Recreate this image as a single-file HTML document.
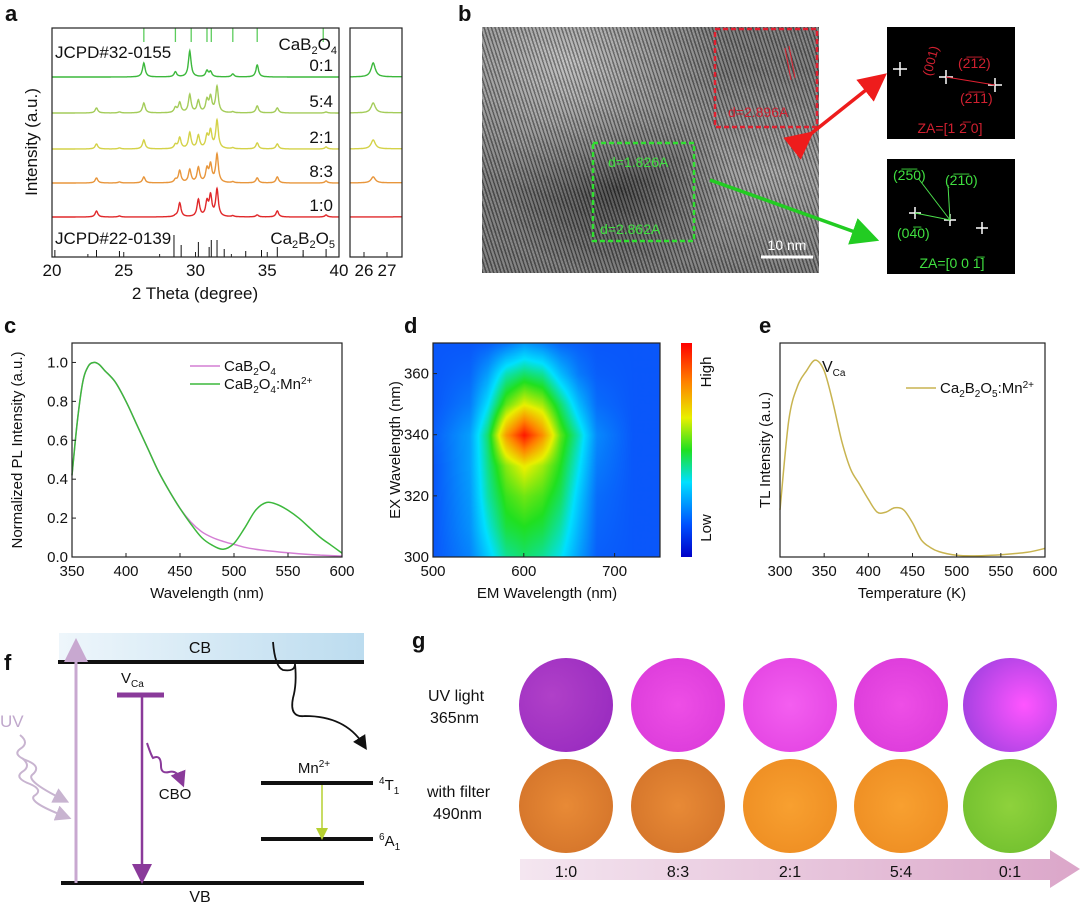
<!DOCTYPE html>
<html><head><meta charset="utf-8">
<style>
body{margin:0;background:#fff;width:1080px;height:907px;overflow:hidden;position:relative;font-family:"Liberation Sans",sans-serif}
svg{position:absolute;left:0;top:0}
#tem{position:absolute;left:482px;top:27px;width:337px;height:246px;
background:repeating-linear-gradient(72deg,rgba(0,0,0,0.35) 0 1.5px,rgba(255,255,255,0.14) 1.5px 3.5px),
radial-gradient(ellipse at 25% 15%,#b8b8b8,transparent 45%),
radial-gradient(ellipse at 40% 65%,#3a3a3a,transparent 40%),
radial-gradient(ellipse at 85% 60%,#a0a0a0,transparent 50%),#707070}
#hm{position:absolute;left:433px;top:343px;width:227px;height:214px}
</style></head><body>
<div id="tem"></div>
<canvas id="hm" width="227" height="214"></canvas>
<svg id="s" width="1080" height="907" xmlns="http://www.w3.org/2000/svg" font-family="Liberation Sans, sans-serif">
<defs>
<linearGradient id="cbg" x1="0" y1="0" x2="0" y2="1"><stop offset="0" stop-color="#ff0000"/><stop offset="0.18" stop-color="#ff8000"/><stop offset="0.35" stop-color="#e8f000"/><stop offset="0.5" stop-color="#20e020"/><stop offset="0.65" stop-color="#00e0ff"/><stop offset="0.85" stop-color="#0050ff"/><stop offset="1" stop-color="#0000c8"/></linearGradient>
<linearGradient id="cbband" x1="0" y1="0" x2="1" y2="0"><stop offset="0" stop-color="#eef6fb"/><stop offset="1" stop-color="#bcdcef"/></linearGradient>
<linearGradient id="arrowg" x1="0" y1="0" x2="1" y2="0"><stop offset="0" stop-color="#f4e6f0"/><stop offset="1" stop-color="#dba6c9"/></linearGradient>
<radialGradient id="uv1" cx="0.35" cy="0.4" r="0.7"><stop offset="0" stop-color="#b040c8"/><stop offset="1" stop-color="#9a2cc0"/></radialGradient>
<radialGradient id="uv2" cx="0.5" cy="0.5" r="0.7"><stop offset="0" stop-color="#ee4ee6"/><stop offset="1" stop-color="#d838d8"/></radialGradient>
<radialGradient id="uv3" cx="0.5" cy="0.5" r="0.7"><stop offset="0" stop-color="#f45ef0"/><stop offset="1" stop-color="#e040e0"/></radialGradient>
<radialGradient id="uv5" cx="0.65" cy="0.5" r="0.7"><stop offset="0" stop-color="#ff55ff"/><stop offset="1" stop-color="#a040e0"/></radialGradient>
<radialGradient id="or1" cx="0.5" cy="0.5" r="0.7"><stop offset="0" stop-color="#e88a36"/><stop offset="1" stop-color="#d07028"/></radialGradient>
<radialGradient id="or3" cx="0.5" cy="0.5" r="0.7"><stop offset="0" stop-color="#f8a030"/><stop offset="1" stop-color="#ec8a20"/></radialGradient>
<radialGradient id="gr5" cx="0.5" cy="0.5" r="0.7"><stop offset="0" stop-color="#8ed23c"/><stop offset="1" stop-color="#6cbc2c"/></radialGradient>
<clipPath id="clipA"><rect x="52" y="28" width="287" height="229"/></clipPath>
<clipPath id="clipI"><rect x="350" y="28" width="52" height="229"/></clipPath>
<marker id="mk" markerWidth="8" markerHeight="8" refX="4" refY="4" orient="auto"><path d="M0,0 L8,4 L0,8 z" fill="context-stroke"/></marker>
</defs>
<g id="panels"></g>
</svg>
<script>
// ---------- Panel a data ----------
const peakPos = [23.1,24.7,26.4,28.6,28.9,29.6,30.2,30.8,31.05,31.5,32.6,34.3,35.7,39.1];
const series10 = [6,1,0,1,14,0,17,14,20,27,1,2,6,2];
const series83 = [5,1,6,3,12,13,15,13,17,28,1,5,6,2];
const series21 = [5,1,9,4,11,16,13,12,17,28,1,6,5,2];
const series54 = [5,1,10,5,10,18,12,12,15,26,1,7,5,1];
const series01 = [0,0,14,5,0,26,0,6,5,0,3,12,0,0];
const xrdNames = ["0:1","5:4","2:1","8:3","1:0"];
const refCaB2O4 = [26.4,28.6,29.7,30.8,31.1,32.6,34.3,38.9];
const refCa2B2O5 = [20.2,23.1,24.7,28.5,29.0,30.2,30.95,31.1,31.5,32.0,33.5,34.6,35.7,37.5,39.1];
const refCa2B2O5H = [7,7,6,22,12,15,10,17,17,8,6,7,10,7,8];
const xTicksA = [20,25,30,35,40];
// ---------- Panel c data ----------
const wlC = [350,355,360,365,370,375,380,390,400,410,420,430,440,450,460,470,480,490,500,510,520,530,540,550,560,570,580,590,600];
const plHost = [0.42,0.7,0.9,0.98,1.0,0.99,0.96,0.9,0.8,0.68,0.56,0.44,0.34,0.25,0.18,0.13,0.1,0.08,0.065,0.05,0.04,0.033,0.027,0.022,0.017,0.013,0.01,0.007,0.005];
const plMn = [0.42,0.7,0.9,0.98,1.0,0.99,0.96,0.9,0.8,0.68,0.56,0.44,0.34,0.25,0.17,0.1,0.06,0.04,0.07,0.15,0.24,0.28,0.27,0.24,0.2,0.15,0.1,0.06,0.02];
const xTicksC = [350,400,450,500,550,600];
const yTicksC = [0,0.2,0.4,0.6,0.8,1.0];
// ---------- Panel d data ----------
const emGrid = [500,540,560,580,600,620,640,660,680,720,750];
const exGrid = [300,310,320,330,340,350,360,370];
const hmVals = [
 [0.16,0.22,0.32,0.42,0.45,0.42,0.36,0.26,0.17,0.16,0.16],
 [0.16,0.24,0.37,0.48,0.5,0.48,0.41,0.29,0.18,0.16,0.16],
 [0.16,0.25,0.41,0.52,0.56,0.53,0.46,0.32,0.19,0.16,0.16],
 [0.16,0.26,0.43,0.58,0.66,0.6,0.5,0.36,0.21,0.16,0.16],
 [0.17,0.26,0.45,0.78,0.97,0.8,0.55,0.4,0.23,0.16,0.16],
 [0.16,0.21,0.35,0.55,0.65,0.6,0.45,0.3,0.19,0.16,0.16],
 [0.16,0.18,0.26,0.4,0.45,0.42,0.3,0.21,0.17,0.16,0.16],
 [0.16,0.16,0.17,0.2,0.25,0.22,0.18,0.17,0.16,0.16,0.16]];
const xTicksD = [500,600,700];
const yTicksD = [300,320,340,360];
// ---------- Panel e data ----------
const tempE = [300,310,320,330,340,350,360,370,380,390,400,410,420,430,440,450,460,470,480,500,520,540,560,580,600];
const tlE = [0.22,0.64,0.8,0.87,0.92,0.87,0.72,0.54,0.41,0.34,0.27,0.21,0.21,0.23,0.22,0.16,0.08,0.045,0.025,0.008,0.005,0.008,0.014,0.022,0.04];
const xTicksE = [300,350,400,450,500,550,600];

const NS="http://www.w3.org/2000/svg";
const root=document.getElementById('panels');
function mk(tag,attrs,parent){const e=document.createElementNS(NS,tag);for(const k in attrs)e.setAttribute(k,attrs[k]);(parent||root).appendChild(e);return e;}
function txt(x,y,s,size,anchor,parent,extra){const e=mk('text',Object.assign({x:x,y:y,'font-size':size,'text-anchor':anchor||'start',fill:'#111'},extra||{}),parent);e.innerHTML=s;return e;}

[["a",5,21],["b",458,21],["c",4,333],["d",404,333],["e",759,333],["f",4,670],["g",412,648]].forEach(l=>{const t=txt(l[1],l[2],l[0],22,'start',null,{'font-weight':'bold'});});

// ===== Panel a =====
const gA=mk('g',{});


const ax=v=>52+(v-20)*(287/20);
const axI=v=>364+(v-26)*23;
const baseY=[77,113,149,183,217];
const colsA=['#3cb83c','#a4cc5a','#d4d248','#e8963c','#e0282a'];
const allSeries=[series01,series54,series21,series83,series10];
function xrdY(h,t){let s=0;for(let i=0;i<peakPos.length;i++){const d=(t-peakPos[i])/0.11;s+=h[i]/(1+d*d);}return s;}
function xrdPath(h,b,fx,lo,hi){let d='';for(let t=lo;t<=hi;t+=0.02){d+=(d?'L':'M')+fx(t).toFixed(1)+','+(b-xrdY(h,t)).toFixed(1);}return d;}
allSeries.forEach((h,i)=>{
 const p=mk('path',{d:xrdPath(h,baseY[i],ax,20,40),fill:'none',stroke:colsA[i],'stroke-width':1.4,'clip-path':'url(#clipA)'},gA);
 
 
 const q=mk('path',{d:xrdPath(h,baseY[i],axI,25.3,27.7),fill:'none',stroke:colsA[i],'stroke-width':1.4,'clip-path':'url(#clipI)'},gA);
 
 
 const t=txt(333,baseY[i]-6,xrdNames[i],17,'end',gA);
 
 
});
refCaB2O4.forEach(v=>{const l=mk('line',{x1:ax(v),x2:ax(v),y1:28,y2:42,stroke:'#5ccc5c','stroke-width':1.3},gA);});
refCa2B2O5.forEach((v,i)=>{const l=mk('line',{x1:ax(v),x2:ax(v),y1:257,y2:257-refCa2B2O5H[i],stroke:'#111','stroke-width':1},gA);});
mk('rect',{x:52,y:28,width:287,height:229,fill:'none',stroke:'#222','stroke-width':1.2},gA);
mk('rect',{x:350,y:28,width:52,height:229,fill:'none',stroke:'#222','stroke-width':1.2},gA);
xTicksA.forEach(v=>{mk('line',{x1:ax(v),x2:ax(v),y1:257,y2:252,stroke:'#222'},gA);txt(ax(v),276,v,17,'middle',gA);});
[22.5,27.5,32.5,37.5].forEach(v=>mk('line',{x1:ax(v),x2:ax(v),y1:257,y2:254,stroke:'#222'},gA));
[26,27].forEach(v=>{mk('line',{x1:axI(v),x2:axI(v),y1:257,y2:252,stroke:'#222'},gA);txt(axI(v),276,v,17,'middle',gA);});
txt(195,299,'2 Theta (degree)',17,'middle',gA);
txt(0,0,'Intensity (a.u.)',17,'middle',gA,{transform:'translate(37,142) rotate(-90)'});
txt(55,58,'JCPD#32-0155',17,'start',gA);
txt(337,50,'CaB<tspan font-size="11" dy="4">2</tspan><tspan dy="-4">O</tspan><tspan font-size="11" dy="4">4</tspan>',17,'end',gA);
txt(55,244,'JCPD#22-0139',17,'start',gA);
txt(335,244,'Ca<tspan font-size="11" dy="4">2</tspan><tspan dy="-4">B</tspan><tspan font-size="11" dy="4">2</tspan><tspan dy="-4">O</tspan><tspan font-size="11" dy="4">5</tspan>',17,'end',gA);

// ===== Panel b overlays =====
const gB=mk('g',{});


mk('rect',{x:715,y:29,width:102,height:98,fill:'none',stroke:'#e02030','stroke-width':2.5,'stroke-dasharray':'5,3'},gB);
mk('line',{x1:785,x2:791,y1:48,y2:80,stroke:'#e02030'},gB);mk('line',{x1:789,x2:795,y1:46,y2:78,stroke:'#e02030'},gB);
txt(728,117,'d=2.896A',14,'start',gB,{fill:'#d02030'});
mk('rect',{x:593,y:143,width:101,height:98,fill:'none',stroke:'#30e030','stroke-width':2.5,'stroke-dasharray':'5,3'},gB);
txt(608,167,'d=1.826A',14,'start',gB,{fill:'#40e040'});
txt(600,234,'d=2.862A',14,'start',gB,{fill:'#40e040'});
mk('line',{x1:761,x2:813,y1:257,y2:257,stroke:'#fff','stroke-width':3},gB);
txt(787,250,'10 nm',14,'middle',gB,{fill:'#fff'});
mk('line',{x1:803,y1:140,x2:876,y2:82,stroke:'#ee1c1c','stroke-width':3.5,'marker-end':'url(#mk)','marker-start':'url(#mk)'},gB);
mk('line',{x1:710,y1:180,x2:866,y2:236,stroke:'#22cc22','stroke-width':3.5,'marker-end':'url(#mk)'},gB);
const f1=mk('rect',{x:887,y:27,width:128,height:112,fill:'#000'},gB);
const f2=mk('rect',{x:887,y:159,width:128,height:115,fill:'#000'},gB);
[[900,69],[995,85],[946,77]].forEach(p=>{mk('line',{x1:p[0]-7,x2:p[0]+7,y1:p[1],y2:p[1],stroke:'#fff','stroke-width':1.5},gB);mk('line',{x1:p[0],x2:p[0],y1:p[1]-7,y2:p[1]+7,stroke:'#fff','stroke-width':1.5},gB);});
mk('line',{x1:946,y1:77,x2:995,y2:85,stroke:'#e02030'},gB);
txt(958,68,'(2̅1̅2)',14,'start',gB,{fill:'#d02030'});
txt(960,103,'(2̅1̅1)',14,'start',gB,{fill:'#d02030'});
txt(0,0,'(001)',13,'middle',gB,{fill:'#d02030',transform:'translate(935,62) rotate(-75)'});
txt(950,133,'ZA=[1 2̅ 0]',14,'middle',gB,{fill:'#d02030'});
[[950,220],[982,228],[915,213]].forEach(p=>{mk('line',{x1:p[0]-6,x2:p[0]+6,y1:p[1],y2:p[1],stroke:'#fff','stroke-width':1.5},gB);mk('line',{x1:p[0],x2:p[0],y1:p[1]-6,y2:p[1]+6,stroke:'#fff','stroke-width':1.5},gB);});
mk('line',{x1:950,y1:220,x2:918,y2:178,stroke:'#4ce04c'},gB);mk('line',{x1:950,y1:220,x2:948,y2:185,stroke:'#4ce04c'},gB);mk('line',{x1:950,y1:220,x2:915,y2:213,stroke:'#4ce04c'},gB);
txt(893,180,'(2̅5̅0)',14,'start',gB,{fill:'#40e040'});
txt(945,185,'(2̅1̅0)',14,'start',gB,{fill:'#40e040'});
txt(897,238,'(04̅0)',14,'start',gB,{fill:'#40e040'});
txt(952,268,'ZA=[0 0 1̅]',14,'middle',gB,{fill:'#40e040'});

function axes(g,x0,x1,y0,y1){mk('rect',{x:x0,y:y0,width:x1-x0,height:y1-y0,fill:'none',stroke:'#222','stroke-width':1.2},g);}
// smooth path (Catmull-Rom)
function line(xs,ys,fx,fy){const P=xs.map((x,i)=>[fx(x),fy(ys[i])]);let d='M'+P[0][0].toFixed(1)+','+P[0][1].toFixed(1);
 for(let i=0;i<P.length-1;i++){const p0=P[Math.max(0,i-1)],p1=P[i],p2=P[i+1],p3=P[Math.min(P.length-1,i+2)];
  const c1=[p1[0]+(p2[0]-p0[0])/6,p1[1]+(p2[1]-p0[1])/6],c2=[p2[0]-(p3[0]-p1[0])/6,p2[1]-(p3[1]-p1[1])/6];
  d+='C'+c1.map(v=>v.toFixed(1)).join(',')+' '+c2.map(v=>v.toFixed(1)).join(',')+' '+p2[0].toFixed(1)+','+p2[1].toFixed(1);}
 return d;}

// ===== Panel c =====
const gC=mk('g',{});


const cx=v=>72+(v-350)*(270/250);
const cy=v=>557-v*(214/1.1);
const pHost=mk('path',{d:line(wlC,plHost,cx,cy),fill:'none',stroke:'#d47ed4','stroke-width':1.5},gC);


const pMn=mk('path',{d:line(wlC,plMn,cx,cy),fill:'none',stroke:'#3cb83c','stroke-width':1.5},gC);


axes(gC,72,342,343,557);
xTicksC.forEach(v=>{mk('line',{x1:cx(v),x2:cx(v),y1:557,y2:553,stroke:'#222'},gC);txt(cx(v),576,v,15,'middle',gC);});
yTicksC.forEach(v=>{mk('line',{x1:72,x2:76,y1:cy(v),y2:cy(v),stroke:'#222'},gC);txt(68,cy(v)+5,v.toFixed(1),15,'end',gC);});
txt(207,598,'Wavelength (nm)',15,'middle',gC);
txt(0,0,'Normalized PL Intensity (a.u.)',15,'middle',gC,{transform:'translate(22,450) rotate(-90)'});
mk('line',{x1:190,x2:220,y1:366,y2:366,stroke:'#d47ed4','stroke-width':1.5},gC);
txt(224,371,'CaB<tspan font-size="10" dy="4">2</tspan><tspan dy="-4">O</tspan><tspan font-size="10" dy="4">4</tspan>',15,'start',gC);
mk('line',{x1:190,x2:220,y1:384,y2:384,stroke:'#3cb83c','stroke-width':1.5},gC);
txt(224,389,'CaB<tspan font-size="10" dy="4">2</tspan><tspan dy="-4">O</tspan><tspan font-size="10" dy="4">4</tspan><tspan dy="-4">:Mn</tspan><tspan font-size="10" dy="-5">2+</tspan>',15,'start',gC);

// ===== Panel d =====
const gD=mk('g',{});


const dx=v=>433+(v-500)*(227/250);
const dy=v=>557-(v-300)*(214/70);
axes(gD,433,660,343,557);
xTicksD.forEach(v=>{mk('line',{x1:dx(v),x2:dx(v),y1:557,y2:553,stroke:'#222'},gD);txt(dx(v),576,v,15,'middle',gD);});
yTicksD.forEach(v=>{mk('line',{x1:433,x2:437,y1:dy(v),y2:dy(v),stroke:'#222'},gD);txt(429,dy(v)+5,v,15,'end',gD);});
txt(547,598,'EM Wavelength (nm)',15,'middle',gD);
txt(0,0,'EX Wavelength (nm)',15,'middle',gD,{transform:'translate(400,450) rotate(-90)'});
const cb=mk('rect',{x:681,y:343,width:11,height:214,fill:'url(#cbg)'},gD);


txt(0,0,'High',15,'middle',gD,{transform:'translate(711,372) rotate(-90)'});
txt(0,0,'Low',15,'middle',gD,{transform:'translate(711,528) rotate(-90)'});
(function(){
 const c=document.getElementById('hm').getContext('2d');const W=227,H=214;const img=c.createImageData(W,H);
 const stops=[[0,[0,0,200]],[0.15,[10,80,250]],[0.35,[0,224,255]],[0.5,[32,224,32]],[0.65,[232,240,0]],[0.82,[255,128,0]],[1,[255,0,0]]];
 function cmap(v){v=Math.max(0,Math.min(1,v));for(let i=1;i<stops.length;i++){if(v<=stops[i][0]){const a=stops[i-1],b=stops[i];const t=(v-a[0])/(b[0]-a[0]);return a[1].map((q,k)=>q+(b[1][k]-q)*t);}}return stops[stops.length-1][1];}
 function idx(arr,v){for(let i=0;i<arr.length-1;i++){if(v<=arr[i+1])return [i,(v-arr[i])/(arr[i+1]-arr[i])];}return [arr.length-2,1];}
 for(let py=0;py<H;py++){const ex=300+(H-py)*70/H;const [j,ty]=idx(exGrid,ex);
  for(let px=0;px<W;px++){const em=500+px*250/W;const [i,tx]=idx(emGrid,em);
   const v=hmVals[j][i]*(1-tx)*(1-ty)+hmVals[j][i+1]*tx*(1-ty)+hmVals[j+1][i]*(1-tx)*ty+hmVals[j+1][i+1]*tx*ty;
   const c3=cmap(v);const o=(py*W+px)*4;img.data[o]=c3[0];img.data[o+1]=c3[1];img.data[o+2]=c3[2];img.data[o+3]=255;}}
 c.putImageData(img,0,0);
})();

// ===== Panel e =====
const gE=mk('g',{});


const ex_=v=>780+(v-300)*(265/300);
const ey=v=>557-v*214;
const pE=mk('path',{d:line(tempE,tlE,ex_,ey),fill:'none',stroke:'#c8b450','stroke-width':1.5},gE);


axes(gE,780,1045,343,557);
xTicksE.forEach(v=>{mk('line',{x1:ex_(v),x2:ex_(v),y1:557,y2:553,stroke:'#222'},gE);txt(ex_(v),576,v,15,'middle',gE);});
txt(912,598,'Temperature (K)',15,'middle',gE);
txt(0,0,'TL Intensity (a.u.)',15,'middle',gE,{transform:'translate(770,450) rotate(-90)'});
txt(822,372,'V<tspan font-size="10" dy="4">Ca</tspan>',16,'start',gE);
mk('line',{x1:906,x2:936,y1:388,y2:388,stroke:'#c8b450','stroke-width':1.5},gE);
txt(940,393,'Ca<tspan font-size="10" dy="4">2</tspan><tspan dy="-4">B</tspan><tspan font-size="10" dy="4">2</tspan><tspan dy="-4">O</tspan><tspan font-size="10" dy="4">5</tspan><tspan dy="-4">:Mn</tspan><tspan font-size="10" dy="-5">2+</tspan>',15,'start',gE);

// ===== Panel f =====
const gF=mk('g',{});


mk('rect',{x:59,y:633,width:305,height:28,fill:'url(#cbband)'},gF);
mk('line',{x1:58,x2:364,y1:662,y2:662,stroke:'#111','stroke-width':4},gF);
mk('line',{x1:61,x2:364,y1:883,y2:883,stroke:'#111','stroke-width':4},gF);
txt(200,653,'CB',16,'middle',gF);txt(200,902,'VB',16,'middle',gF);
mk('line',{x1:76,y1:883,x2:76,y2:650,stroke:'#c8a8d0','stroke-width':3,'marker-end':'url(#mk)'},gF);
mk('line',{x1:117,x2:164,y1:695,y2:695,stroke:'#8a3a9a','stroke-width':5},gF);
txt(121,683,'V<tspan font-size="10" dy="4">Ca</tspan>',15,'start',gF);
mk('line',{x1:142,y1:697,x2:142,y2:874,stroke:'#8a3a9a','stroke-width':2.5,'marker-end':'url(#mk)'},gF);
mk('path',{d:'M147,743 q4,12 6,15 q8,-4 8,8 q0,8 8,6 q8,-2 12,8',fill:'none',stroke:'#8a3a9a','stroke-width':2,'marker-end':'url(#mk)'},gF);
txt(175,799,'CBO',15,'middle',gF);
mk('path',{d:'M273,642 q2,25 10,28 q12,2 12,-6 q2,20 -2,34 q-4,20 12,18 q40,0 58,28',fill:'none',stroke:'#111','stroke-width':1.8,'marker-end':'url(#mk)'},gF);
mk('line',{x1:261,x2:373,y1:783,y2:783,stroke:'#111','stroke-width':4},gF);
mk('line',{x1:261,x2:373,y1:839,y2:839,stroke:'#111','stroke-width':4},gF);
mk('line',{x1:322,y1:785,x2:322,y2:834,stroke:'#b6d030','stroke-width':1.5,'marker-end':'url(#mk)'},gF);
txt(314,773,'Mn<tspan font-size="10" dy="-6">2+</tspan>',15,'middle',gF);
txt(379,790,'<tspan font-size="10" dy="-6">4</tspan><tspan dy="6">T</tspan><tspan font-size="10" dy="4">1</tspan>',15,'start',gF);
txt(379,846,'<tspan font-size="10" dy="-6">6</tspan><tspan dy="6">A</tspan><tspan font-size="10" dy="4">1</tspan>',15,'start',gF);
txt(0,727,'UV',17,'start',gF,{fill:'#c0a8cc'});
mk('path',{d:'M20,735 q10,8 0,14 q-8,6 8,12 q14,6 4,14 q-6,6 30,24',fill:'none',stroke:'#c8b4d0','stroke-width':2,'marker-end':'url(#mk)'},gF);
mk('path',{d:'M22,758 q10,8 0,14 q-8,6 8,12 q14,6 4,12 q-6,6 30,20',fill:'none',stroke:'#c8b4d0','stroke-width':2,'marker-end':'url(#mk)'},gF);

// ===== Panel g =====
const gG=mk('g',{});


const ratiosG=["1:0","8:3","2:1","5:4","0:1"];
const cxG=[566,678,790,901,1010];
const uvFill=['url(#uv1)','url(#uv2)','url(#uv3)','url(#uv2)','url(#uv5)'];
const filFill=['url(#or1)','url(#or1)','url(#or3)','url(#or3)','url(#gr5)'];
const bandArrow=mk('path',{d:'M520,859 L1050,859 L1050,850 L1080,869 L1050,888 L1050,880 L520,880 Z',fill:'url(#arrowg)'},gG);


ratiosG.forEach((r,i)=>{
 const a=mk('circle',{cx:cxG[i],cy:705,r:47,fill:uvFill[i]},gG);
 
 
 const b=mk('circle',{cx:cxG[i],cy:806,r:47,fill:filFill[i]},gG);
 
 
 txt(cxG[i],877,r,16,'middle',gG);
});
txt(428,701,'UV light',16,'start',gG);txt(430,723,'365nm',16,'start',gG);
txt(427,797,'with filter',16,'start',gG);txt(433,819,'490nm',16,'start',gG);
</script>
</body></html>
